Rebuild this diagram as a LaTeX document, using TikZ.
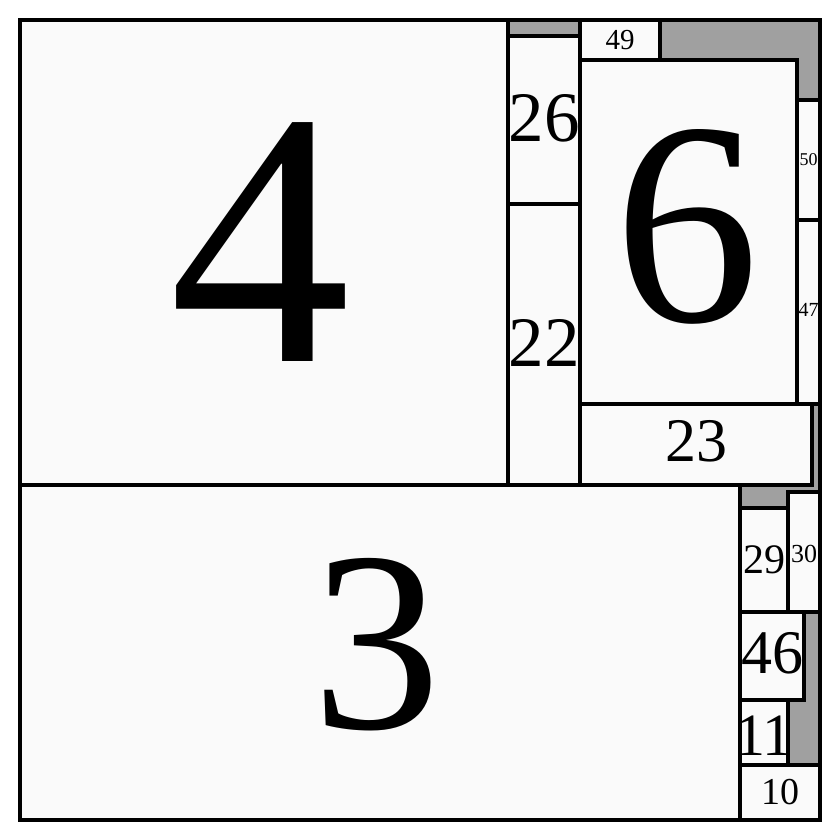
\documentclass[tikz,border=0pt]{standalone}
\usepackage{fontspec}
\setmainfont{Liberation Serif}
\definecolor{boxfill}{HTML}{FAFAFA}
\definecolor{gapgrey}{HTML}{A0A0A0}
\newcommand\fs[1]{\fontsize{#1}{#1}\selectfont}
\begin{document}
\begin{tikzpicture}[x=1pt,y=-1pt,
  cell/.style={draw=black,fill=boxfill,line width=4pt,inner sep=0pt,outer sep=0pt,rectangle},
  lab/.style={inner sep=0pt,text=black}]
\useasboundingbox (0,0) rectangle (840,840);
\fill[white] (0,0) rectangle (840,840);
\fill[gapgrey] (20,20) rectangle (820,820);
% cells: centre, width, height
\node[cell,minimum width=488pt,minimum height=465pt] (c4) at (264,252.5) {};
\node[cell,minimum width=720pt,minimum height=335pt] (c3) at (380,652.5) {};
\node[cell,minimum width=72pt,minimum height=168pt] (c26) at (544,120) {};
\node[cell,minimum width=72pt,minimum height=281pt] (c22) at (544,344.5) {};
\node[cell,minimum width=80pt,minimum height=40pt] (c49) at (620,40) {};
\node[cell,minimum width=217pt,minimum height=344pt] (c6) at (688.5,232) {};
\node[cell,minimum width=23pt,minimum height=120pt] (c50) at (808.5,160) {};
\node[cell,minimum width=23pt,minimum height=184pt] (c47) at (808.5,312) {};
\node[cell,minimum width=232pt,minimum height=81pt] (c23) at (696,444.5) {};
\node[cell,minimum width=48pt,minimum height=104pt] (c29) at (764,560) {};
\node[cell,minimum width=32pt,minimum height=120pt] (c30) at (804,552) {};
\node[cell,minimum width=64pt,minimum height=88pt] (c46) at (772,656) {};
\node[cell,minimum width=48pt,minimum height=65pt] (c11) at (764,732.5) {};
\node[cell,minimum width=80pt,minimum height=55pt] (c10) at (780,792.5) {};
% labels
\node[lab,font=\fs{363}] (t4) at ([xshift=-4pt,yshift=10pt]c4.center) {4};
\node[lab,font=\fs{257}] (t3) at ([xshift=-3pt,yshift=8pt]c3.center) {3};
\node[lab,font=\fs{71}] (t26) at ([yshift=2pt]c26.center) {26};
\node[lab,font=\fs{71}] (t22) at ([yshift=2pt]c22.center) {22};
\node[lab,font=\fs{29}] (t49) at (c49.center) {49};
\node[lab,font=\fs{290}] (t6) at ([xshift=-2pt,yshift=5pt]c6.center) {6};
\node[lab,font=\fs{18}] (t50) at (c50.center) {50};
\node[lab,font=\fs{20}] (t47) at ([yshift=2pt]c47.center) {47};
\node[lab,font=\fs{62}] (t23) at ([yshift=3pt]c23.center) {23};
\node[lab,font=\fs{42}] (t29) at (c29.center) {29};
\node[lab,font=\fs{26}] (t30) at ([yshift=-2pt]c30.center) {30};
\node[lab,font=\fs{62}] (t46) at ([yshift=3pt]c46.center) {46};
\node[lab,font=\fs{60}] (t11) at ([yshift=-3pt]c11.center) {11};
\node[lab,font=\fs{38}] (t10) at (c10.center) {10};
\draw[line width=4pt] (20,20) rectangle (820,820);
\end{tikzpicture}
\end{document}
